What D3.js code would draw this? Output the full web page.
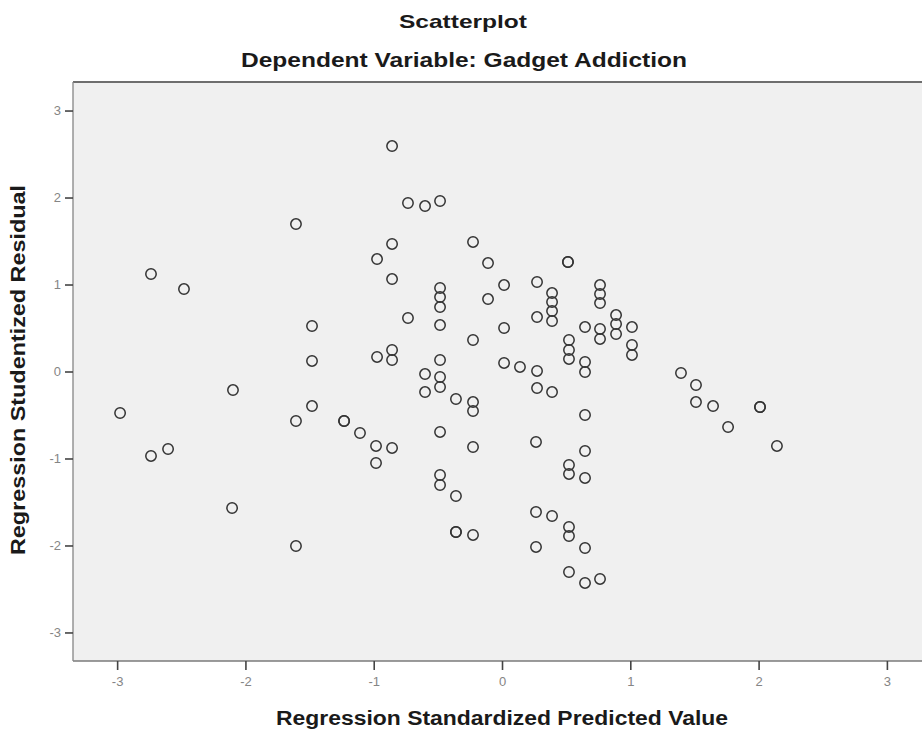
<!DOCTYPE html>
<html>
<head>
<meta charset="utf-8">
<script src="https://cdn.jsdelivr.net/npm/d3@7"></script>
<style>
  html, body { margin: 0; padding: 0; background: #ffffff; }
  svg { display: block; }
</style>
</head>
<body>
<svg id="chart" width="922" height="731"></svg>
<script>
const chartTitle = "Scatterplot";
const chartSubtitle = "Dependent Variable: Gadget Addiction";
const xAxisTitle = "Regression Standardized Predicted Value";
const yAxisTitle = "Regression Studentized Residual";

const xTicks = [-3, -2, -1, 0, 1, 2, 3];
const yTicks = [-3, -2, -1, 0, 1, 2, 3];

// Regression standardized predicted value (x) and studentized residual (y)
const predicted = [
  -0.857, -0.733, -0.600, -0.483, -1.606, -0.857, -0.226, -0.974, -0.109, 0.514,
  0.514, -2.736, -0.857, -2.479, 0.016, 0.273, -0.483, -0.483, -0.483, 0.390,
  0.390, 0.390, 0.390, 0.764, 0.764, 0.764, -0.109, -0.733, 0.273, 0.889,
  0.889, 0.889, 1.013, 0.647, 0.764, 0.764, -1.481, -0.483, 0.016, -0.226,
  0.522, 0.522, 0.522, 1.013, 1.013, -0.857, -0.857, -0.974, -0.483, -1.481,
  0.016, 0.140, 0.273, 0.647, 0.647, 1.395, -0.600, -0.483, -0.483, 0.273,
  -2.097, -0.600, 0.390, 1.512, -0.359, -0.226, -0.226, 1.512, 1.645, 2.011,
  2.011, -1.481, -2.977, 0.647, -1.606, -1.231, -1.231, 1.762, -0.483, -1.107,
  0.265, -0.982, -0.857, -0.226, 2.143, 0.647, -2.603, -2.736, -0.982, 0.522,
  0.522, 0.647, -0.483, -0.483, -0.359, -2.104, 0.265, 0.390, 0.522, 0.522,
  -0.359, -0.359, -0.226, -1.606, 0.265, 0.647, 0.522, 0.764, 0.647
];
const residual = [
  2.592, 1.937, 1.902, 1.960, 1.695, 1.466, 1.489, 1.293, 1.247, 1.259,
  1.259, 1.121, 1.063, 0.948, 0.994, 1.029, 0.960, 0.856, 0.741, 0.902,
  0.799, 0.695, 0.580, 0.994, 0.891, 0.787, 0.833, 0.615, 0.626, 0.649,
  0.546, 0.431, 0.511, 0.511, 0.489, 0.374, 0.523, 0.534, 0.500, 0.362,
  0.362, 0.247, 0.144, 0.305, 0.190, 0.247, 0.132, 0.167, 0.132, 0.121,
  0.098, 0.052, 0.006, 0.109, -0.006, -0.017, -0.029, -0.063, -0.178, -0.190,
  -0.213, -0.236, -0.236, -0.155, -0.316, -0.351, -0.454, -0.351, -0.397, -0.408,
  -0.408, -0.397, -0.477, -0.500, -0.569, -0.569, -0.569, -0.638, -0.695, -0.707,
  -0.810, -0.856, -0.879, -0.868, -0.856, -0.914, -0.891, -0.971, -1.052, -1.075,
  -1.178, -1.224, -1.190, -1.305, -1.431, -1.569, -1.615, -1.661, -1.787, -1.891,
  -1.845, -1.845, -1.879, -2.006, -2.017, -2.029, -2.305, -2.385, -2.431
];

const points = predicted.map((x, i) => ({ x: x, y: residual[i] }));

const svg = d3.select("#chart");
const plot = { left: 73, right: 930, top: 82, bottom: 661 };

const x = d3.scaleLinear().domain([-3.344, 3.336]).range([plot.left, plot.right]);
const y = d3.scaleLinear().domain([-3.328, 3.328]).range([plot.bottom, plot.top]);

// plot background
svg.append("rect")
  .attr("x", plot.left).attr("y", plot.top)
  .attr("width", plot.right - plot.left).attr("height", plot.bottom - plot.top)
  .attr("fill", "#f0f0f0");

// borders
svg.append("line").attr("x1", plot.left).attr("x2", plot.right)
  .attr("y1", plot.top).attr("y2", plot.top)
  .attr("stroke", "#6e6e6e").attr("stroke-width", 2.2);
svg.append("line").attr("x1", plot.left).attr("x2", plot.right)
  .attr("y1", plot.bottom).attr("y2", plot.bottom)
  .attr("stroke", "#7a7a7a").attr("stroke-width", 1.4);
svg.append("line").attr("x1", plot.left).attr("x2", plot.left)
  .attr("y1", plot.top).attr("y2", plot.bottom)
  .attr("stroke", "#858585").attr("stroke-width", 1.3);

// axes
const xAxis = d3.axisBottom(x).tickValues(xTicks).tickSize(9).tickPadding(7)
  .tickFormat(d => String(d));
const yAxis = d3.axisLeft(y).tickValues(yTicks).tickSize(8).tickPadding(4)
  .tickFormat(d => String(d));

const gx = svg.append("g").attr("transform", `translate(0,${plot.bottom})`).call(xAxis);
const gy = svg.append("g").attr("transform", `translate(${plot.left},0)`).call(yAxis);

[gx, gy].forEach(g => {
  g.select(".domain").remove();
  g.selectAll(".tick line").attr("stroke", "#444").attr("stroke-width", 1.6);
  g.selectAll(".tick text")
    .attr("fill", "#858585")
    .style("font-family", "'Liberation Sans', Arial, sans-serif")
    .style("font-size", "13px");
});

// points
svg.append("g").selectAll("circle")
  .data(points)
  .join("circle")
  .attr("cx", d => x(d.x))
  .attr("cy", d => y(d.y))
  .attr("r", 5.2)
  .attr("fill", "none")
  .attr("stroke", "#333")
  .attr("stroke-width", 1.5);

// titles
const font = "'Liberation Sans', Arial, sans-serif";
svg.append("text")
  .attr("x", 463).attr("y", 28)
  .attr("text-anchor", "middle")
  .attr("textLength", 128).attr("lengthAdjust", "spacingAndGlyphs")
  .style("font-family", font).style("font-size", "19px").style("font-weight", "bold")
  .attr("fill", "#1a1a1a")
  .text(chartTitle);

svg.append("text")
  .attr("x", 464).attr("y", 67)
  .attr("text-anchor", "middle")
  .attr("textLength", 446).attr("lengthAdjust", "spacingAndGlyphs")
  .style("font-family", font).style("font-size", "20px").style("font-weight", "bold")
  .attr("fill", "#1a1a1a")
  .text(chartSubtitle);

svg.append("text")
  .attr("x", 502).attr("y", 725)
  .attr("text-anchor", "middle")
  .attr("textLength", 452).attr("lengthAdjust", "spacingAndGlyphs")
  .style("font-family", font).style("font-size", "20px").style("font-weight", "bold")
  .attr("fill", "#1a1a1a")
  .text(xAxisTitle);

svg.append("text")
  .attr("transform", "translate(25,370) rotate(-90)")
  .attr("text-anchor", "middle")
  .attr("textLength", 370).attr("lengthAdjust", "spacingAndGlyphs")
  .style("font-family", font).style("font-size", "20px").style("font-weight", "bold")
  .attr("fill", "#1a1a1a")
  .text(yAxisTitle);
</script>
</body>
</html>
